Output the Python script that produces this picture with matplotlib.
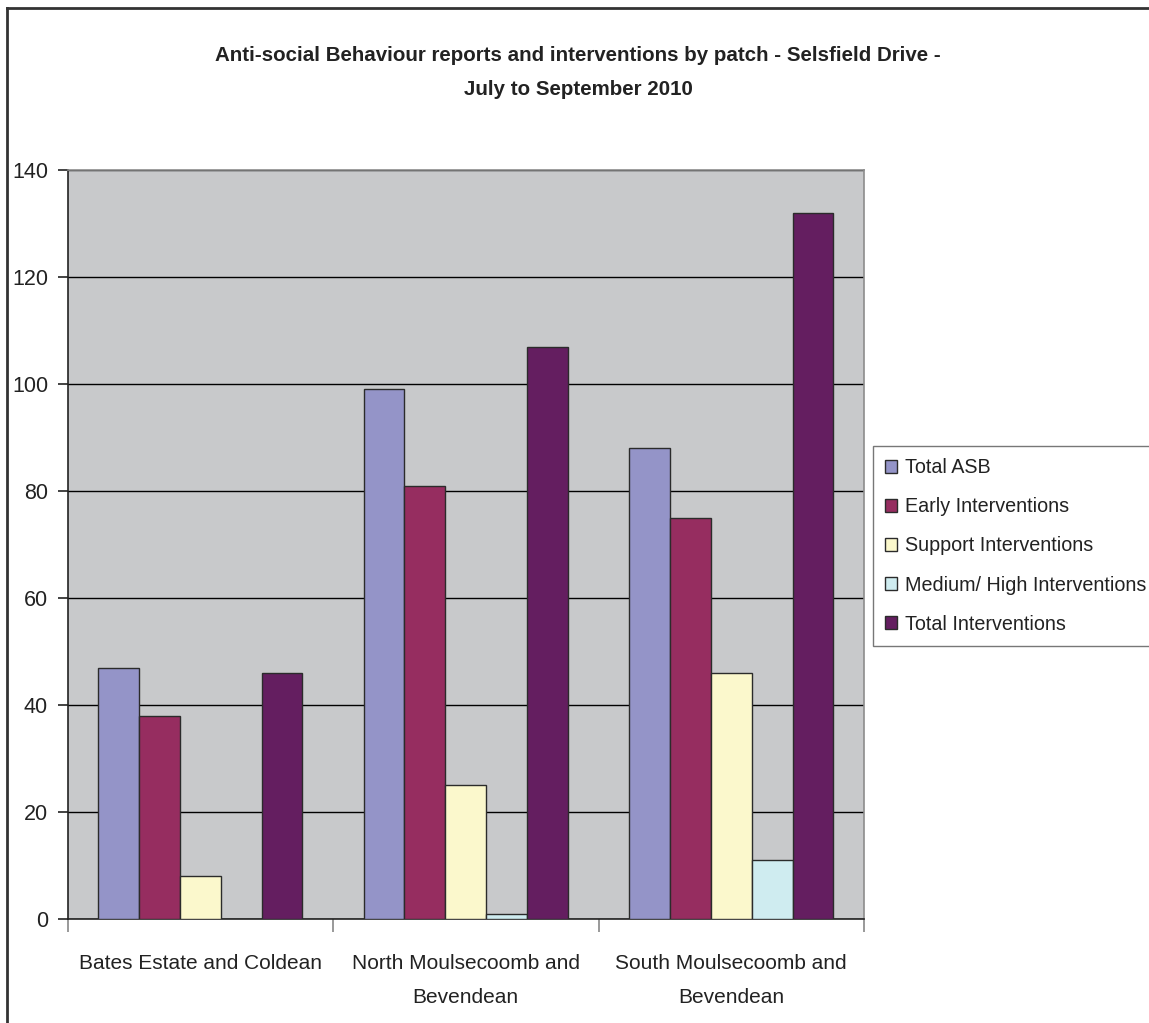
import numpy as np
import matplotlib
matplotlib.use("Agg")
import matplotlib.pyplot as plt
from matplotlib.lines import Line2D

plt.rcParams['font.family'] = ['Liberation Sans', 'DejaVu Sans']

categories = ['Bates Estate and Coldean', 'North Moulsecoomb and\nBevendean',
              'South Moulsecoomb and\nBevendean']
series = ['Total ASB', 'Early Interventions', 'Support Interventions',
          'Medium/ High Interventions', 'Total Interventions']
total_asb = [47, 99, 88]
early = [38, 81, 75]
support = [8, 25, 46]
medium_high = [0, 1, 11]
total_int = [46, 107, 132]
colors = ['#9494c8', '#962d60', '#fbf8cc', '#cfecf0', '#641e60']
yticks = [0, 20, 40, 60, 80, 100, 120, 140]

values = [total_asb, early, support, medium_high, total_int]

fig = plt.figure(figsize=(11.49, 10.23), dpi=100)
ax = fig.add_axes([67.5 / 1149, 1 - 919 / 1023, (864 - 67.5) / 1149, (919 - 170) / 1023])
ax.set_facecolor('#c8c9cb')

x = np.arange(len(categories))
w = 0.154
for i, (name, vals, c) in enumerate(zip(series, values, colors)):
    ax.bar(x + (i - 2) * w, vals, width=w, color=c, edgecolor='#2b2b2b',
           linewidth=1.0, label=name, zorder=3)

ax.set_xlim(-0.5, 2.5)
ax.set_ylim(0, 140)
ax.set_yticks(yticks)
ax.yaxis.grid(True, color='black', linewidth=1.0, zorder=1)
ax.set_axisbelow(True)

ax.set_xticks([-0.5, 0.5, 1.5, 2.5])
ax.set_xticklabels([])
ax.set_xticks(x, minor=True)
ax.set_xticklabels(categories, minor=True, fontsize=15, color='#222222',
                   linespacing=2.05)
ax.tick_params(axis='x', which='major', length=9, width=1.2, color='#888888', direction='out')
ax.tick_params(axis='x', which='minor', length=0, pad=25)
ax.tick_params(axis='y', length=7, width=1.2, color='#222222', labelsize=15.5,
               labelcolor='#222222', pad=7)

ax.spines['left'].set_color('#222222')
ax.spines['bottom'].set_color('#222222')
ax.spines['top'].set_color('#8c8c8c')
ax.spines['right'].set_color('#8c8c8c')
for s in ax.spines.values():
    s.set_linewidth(1.2)

fig.suptitle('Anti-social Behaviour reports and interventions by patch - Selsfield Drive -\n'
             'July to September 2010', x=578 / 1149, y=1 - 46 / 1023, fontsize=14.8,
             fontweight='bold', color='#222222', linespacing=2.0, va='top')

leg = ax.legend(loc='upper left', bbox_to_anchor=(873 / 1149, 1 - 446 / 1023),
                bbox_transform=fig.transFigure, fontsize=14.2, frameon=True,
                fancybox=False, edgecolor='#555555', handlelength=0.6,
                handleheight=0.6, handletextpad=0.4, labelspacing=1.02,
                borderpad=0.62, borderaxespad=0)
leg.get_frame().set_linewidth(1.0)
for t in leg.get_texts():
    t.set_color('#222222')

# outer border (left and top only visible)
fig.add_artist(Line2D([7 / 1149, 7 / 1149], [0, 1 - 8 / 1023], color='#333333', linewidth=2))
fig.add_artist(Line2D([7 / 1149, 1], [1 - 8 / 1023, 1 - 8 / 1023], color='#333333', linewidth=2))

fig.savefig('out.png', dpi=100)
